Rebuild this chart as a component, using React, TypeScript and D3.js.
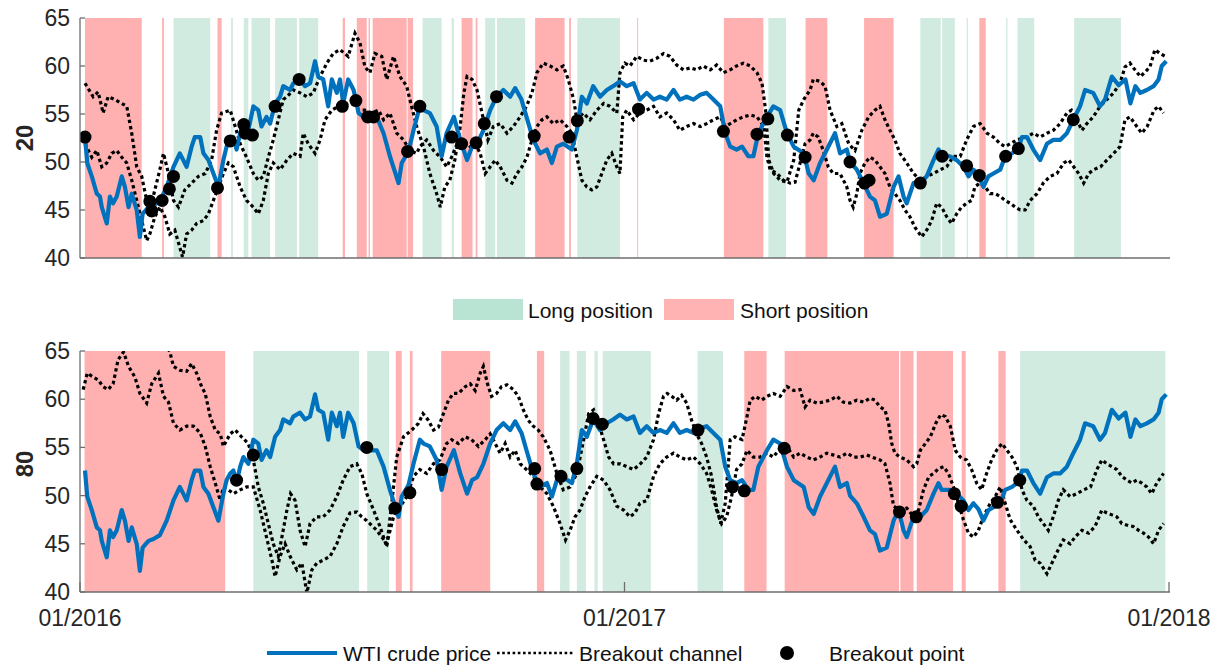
import React from "react";
import * as d3 from "d3";

// time is in months since 01/2016, values in USD/bbl
const price: [number, number][] = [
  [0.11, 52.6], [0.16, 49.9], [0.26, 48.5], [0.37, 46.7], [0.44, 46.4], [0.48, 45.3], [0.59, 43.6], [0.66, 46.4],
  [0.73, 45.7], [0.81, 46.4], [0.92, 48.5], [0.99, 47.4], [1.07, 45.3], [1.14, 46.7], [1.25, 45.0], [1.32, 42.2],
  [1.38, 44.6], [1.51, 45.3], [1.62, 45.5], [1.76, 45.9], [1.91, 47.4], [2.06, 49.5], [2.2, 50.9], [2.35, 49.5],
  [2.46, 51.6], [2.53, 52.6], [2.65, 52.6], [2.72, 50.9], [2.83, 50.2], [2.94, 48.8], [3.05, 47.4], [3.16, 50.2],
  [3.23, 51.6], [3.31, 52.3], [3.38, 52.6], [3.45, 51.3], [3.53, 53.0], [3.6, 54.0], [3.71, 53.3], [3.82, 55.8],
  [3.93, 55.4], [4.0, 53.7], [4.11, 54.7], [4.19, 54.0], [4.3, 56.1], [4.41, 56.8], [4.48, 57.9], [4.63, 57.5],
  [4.7, 58.2], [4.85, 58.6], [4.96, 57.9], [5.07, 58.2], [5.18, 60.5], [5.25, 58.9], [5.36, 58.6], [5.47, 55.8],
  [5.55, 58.6], [5.66, 57.2], [5.73, 58.6], [5.8, 56.1], [5.91, 58.6], [6.03, 57.5], [6.14, 55.1], [6.25, 54.7],
  [6.39, 54.7], [6.54, 54.7], [6.69, 53.0], [6.83, 50.6], [7.02, 47.8], [7.09, 49.9], [7.24, 51.1], [7.35, 53.3],
  [7.49, 55.8], [7.57, 55.4], [7.71, 55.1], [7.86, 53.7], [7.97, 50.6], [8.08, 53.0], [8.24, 54.7], [8.38, 52.3],
  [8.53, 50.2], [8.64, 51.6], [8.75, 51.9], [8.89, 53.3], [9.04, 55.4], [9.18, 56.8], [9.33, 57.5], [9.48, 56.8],
  [9.59, 57.7], [9.73, 56.5], [9.84, 54.7], [9.99, 52.3], [10.14, 50.9], [10.29, 51.3], [10.4, 49.9], [10.51, 51.6],
  [10.65, 51.9], [10.84, 51.3], [10.95, 53.3], [11.06, 56.8], [11.17, 56.1], [11.31, 57.9], [11.46, 56.8], [11.61, 57.5],
  [11.75, 57.9], [11.9, 58.4], [12.05, 57.9], [12.2, 58.2], [12.34, 56.5], [12.49, 57.2], [12.64, 56.5], [12.78, 56.8],
  [12.93, 56.5], [13.08, 57.5], [13.22, 56.5], [13.37, 56.8], [13.52, 56.5], [13.67, 57.0], [13.81, 57.2], [13.96, 56.5],
  [14.11, 55.8], [14.22, 53.0], [14.33, 51.6], [14.47, 51.3], [14.59, 51.6], [14.73, 50.6], [14.84, 50.6], [14.95, 53.0],
  [15.14, 54.7], [15.28, 55.8], [15.43, 55.4], [15.58, 53.0], [15.73, 51.6], [15.95, 50.9], [16.06, 48.8], [16.17, 48.1],
  [16.31, 49.9], [16.46, 51.3], [16.64, 53.0], [16.75, 50.9], [16.9, 51.3], [16.97, 50.0], [17.12, 49.2], [17.27, 47.8],
  [17.41, 46.4], [17.52, 46.0], [17.63, 44.3], [17.78, 44.6], [17.93, 47.4], [18.04, 48.5], [18.15, 46.4], [18.22, 45.7],
  [18.37, 47.8], [18.52, 47.8], [18.66, 48.5], [18.81, 50.2], [18.92, 51.3], [18.99, 50.6], [19.17, 50.6], [19.32, 50.2],
  [19.47, 49.5], [19.58, 48.5], [19.69, 49.2], [19.8, 48.6], [19.91, 47.4], [20.02, 48.5], [20.13, 48.8], [20.28, 49.2],
  [20.39, 50.6], [20.54, 50.9], [20.68, 51.4], [20.76, 52.6], [20.87, 52.6], [21.01, 51.3], [21.16, 50.2], [21.31, 51.9],
  [21.45, 52.3], [21.6, 52.3], [21.75, 53.0], [21.89, 54.4], [22.04, 55.8], [22.15, 57.5], [22.33, 57.2], [22.48, 55.8],
  [22.59, 56.5], [22.74, 58.9], [22.89, 58.0], [23.04, 58.6], [23.15, 56.1], [23.26, 57.9], [23.37, 57.2], [23.51, 57.5],
  [23.66, 57.9], [23.77, 58.6], [23.84, 60.0], [23.94, 60.5],
];

// 20-day breakout channel
const upper20: [number, number][] = [
  [0.11, 58.2], [0.29, 56.8], [0.4, 57.3], [0.51, 55.1], [0.62, 56.8], [0.77, 56.5], [0.92, 56.1], [1.03, 55.8],
  [1.14, 53.0], [1.25, 49.5], [1.36, 48.5], [1.47, 46.0], [1.54, 45.0], [1.65, 47.1], [1.76, 49.2], [1.84, 50.9],
  [1.95, 48.8], [2.06, 46.0], [2.17, 45.3], [2.31, 47.1], [2.46, 47.8], [2.61, 48.5], [2.76, 48.8], [2.9, 50.2],
  [3.01, 53.3], [3.12, 55.1], [3.31, 55.4], [3.42, 53.7], [3.53, 51.9], [3.67, 50.5], [3.82, 48.8], [3.93, 48.1],
  [4.04, 48.5], [4.15, 50.5], [4.26, 52.3], [4.37, 54.4], [4.48, 56.5], [4.56, 56.8], [4.7, 57.5], [4.85, 57.2],
  [5.0, 56.8], [5.14, 57.2], [5.29, 58.9], [5.44, 60.3], [5.58, 61.3], [5.73, 61.7], [5.91, 61.0], [6.06, 63.4],
  [6.17, 62.4], [6.28, 59.9], [6.39, 59.3], [6.5, 61.3], [6.65, 61.0], [6.76, 58.6], [6.91, 61.0], [7.05, 58.9],
  [7.2, 57.9], [7.27, 56.5], [7.42, 53.7], [7.57, 51.6], [7.71, 48.8], [7.86, 46.7], [7.94, 45.3], [8.04, 47.4],
  [8.15, 48.1], [8.26, 50.2], [8.38, 53.7], [8.46, 57.2], [8.53, 58.9], [8.64, 58.6], [8.75, 57.5], [8.86, 55.1],
  [8.99, 52.3], [9.11, 53.7], [9.26, 54.0], [9.41, 53.0], [9.55, 53.7], [9.7, 54.7], [9.84, 55.8], [9.96, 57.2],
  [10.07, 59.3], [10.21, 60.3], [10.36, 60.0], [10.51, 59.6], [10.65, 60.0], [10.76, 58.6], [10.88, 56.5], [10.95, 54.4],
  [11.09, 55.1], [11.24, 54.4], [11.39, 55.4], [11.54, 56.1], [11.68, 55.8], [11.83, 55.1], [11.9, 59.3], [12.01, 60.3],
  [12.12, 60.0], [12.27, 61.0], [12.42, 60.6], [12.56, 60.5], [12.71, 60.8], [12.86, 61.3], [13.0, 61.0], [13.15, 60.1],
  [13.3, 59.6], [13.45, 59.8], [13.59, 59.6], [13.74, 60.0], [13.89, 59.6], [14.03, 60.1], [14.18, 59.3], [14.33, 59.6],
  [14.47, 60.0], [14.62, 60.3], [14.77, 60.0], [14.92, 59.3], [15.03, 58.2], [15.11, 55.4], [15.18, 50.2], [15.29, 48.8],
  [15.43, 48.1], [15.58, 47.9], [15.73, 50.2], [15.84, 55.4], [15.95, 56.5], [16.09, 57.5], [16.16, 58.6], [16.31, 58.4],
  [16.42, 57.9], [16.53, 55.4], [16.68, 53.7], [16.79, 54.0], [16.94, 51.9], [17.08, 51.2], [17.23, 53.3], [17.38, 54.7],
  [17.52, 55.4], [17.63, 55.8], [17.74, 54.4], [17.85, 53.3], [17.96, 52.3], [18.07, 50.9], [18.22, 49.9], [18.37, 48.8],
  [18.52, 48.1], [18.66, 48.5], [18.81, 48.8], [18.96, 49.2], [19.1, 49.5], [19.25, 50.6], [19.4, 50.6], [19.54, 52.3],
  [19.69, 53.7], [19.84, 54.0], [19.99, 53.0], [20.13, 52.6], [20.28, 51.9], [20.39, 51.6], [20.5, 51.9], [20.65, 52.3],
  [20.87, 52.6], [21.01, 53.0], [21.16, 52.6], [21.31, 53.0], [21.45, 53.3], [21.6, 54.0], [21.75, 55.1], [21.85, 55.4],
  [21.97, 54.4], [22.08, 53.3], [22.19, 54.0], [22.33, 54.7], [22.48, 55.8], [22.63, 56.5], [22.78, 57.2], [22.92, 58.2],
  [23.03, 59.9], [23.14, 60.3], [23.25, 59.6], [23.37, 58.9], [23.48, 59.4], [23.58, 59.9], [23.69, 61.7], [23.8, 61.3],
  [23.92, 61.0],
];

const lower20: [number, number][] = [
  [0.11, 51.9], [0.26, 50.5], [0.37, 51.2], [0.48, 49.5], [0.59, 49.9], [0.7, 50.9], [0.81, 51.2], [0.92, 50.5],
  [1.03, 49.9], [1.14, 48.1], [1.25, 46.0], [1.36, 43.9], [1.47, 41.8], [1.54, 42.5], [1.65, 44.3], [1.76, 45.3],
  [1.87, 44.3], [1.98, 42.5], [2.09, 42.9], [2.2, 41.1], [2.26, 40.1], [2.35, 42.5], [2.46, 42.9], [2.57, 43.6],
  [2.72, 43.9], [2.83, 44.6], [2.94, 46.0], [3.05, 47.4], [3.16, 48.8], [3.27, 49.9], [3.38, 49.5], [3.53, 47.4],
  [3.67, 46.0], [3.82, 45.3], [3.93, 44.6], [4.04, 46.0], [4.15, 48.8], [4.26, 49.9], [4.41, 49.2], [4.56, 50.2],
  [4.7, 50.9], [4.85, 50.6], [4.92, 53.0], [5.03, 51.9], [5.18, 50.9], [5.29, 52.3], [5.4, 54.4], [5.55, 55.4],
  [5.69, 55.8], [5.88, 56.1], [6.03, 56.5], [6.14, 55.4], [6.28, 55.4], [6.43, 55.1], [6.58, 55.4], [6.69, 54.4],
  [6.83, 55.1], [6.98, 53.0], [7.13, 52.3], [7.27, 51.2], [7.42, 50.9], [7.49, 51.6], [7.64, 52.3], [7.79, 51.2],
  [7.94, 50.5], [8.08, 49.5], [8.19, 50.5], [8.31, 51.9], [8.45, 52.3], [8.6, 51.6], [8.71, 51.9], [8.82, 50.9],
  [8.93, 48.8], [9.04, 49.5], [9.15, 50.2], [9.26, 49.5], [9.41, 48.1], [9.52, 47.8], [9.63, 48.8], [9.74, 49.5],
  [9.85, 50.5], [9.96, 52.3], [10.07, 53.7], [10.18, 54.4], [10.29, 54.7], [10.43, 54.0], [10.58, 54.4], [10.73, 53.7],
  [10.84, 53.0], [10.95, 50.5], [11.06, 48.1], [11.17, 47.4], [11.28, 47.1], [11.39, 47.4], [11.5, 48.8], [11.61, 50.2],
  [11.72, 50.9], [11.83, 49.5], [11.9, 48.8], [11.96, 54.7], [12.05, 55.4], [12.2, 54.4], [12.34, 55.1], [12.49, 55.4],
  [12.64, 55.8], [12.78, 54.7], [12.93, 55.1], [13.08, 54.4], [13.22, 53.3], [13.37, 53.7], [13.52, 54.0], [13.67, 53.7],
  [13.81, 54.0], [13.96, 54.4], [14.11, 54.7], [14.22, 53.7], [14.33, 54.0], [14.47, 54.4], [14.62, 54.7], [14.77, 54.9],
  [14.92, 54.7], [15.07, 53.7], [15.14, 50.5], [15.21, 49.2], [15.36, 48.8], [15.5, 48.1], [15.65, 47.8], [15.76, 47.9],
  [15.87, 49.9], [15.98, 51.9], [16.09, 52.3], [16.16, 53.0], [16.27, 52.6], [16.38, 51.2], [16.49, 49.5], [16.6, 48.8],
  [16.75, 48.8], [16.9, 47.4], [16.97, 46.0], [17.04, 45.3], [17.12, 46.7], [17.19, 48.8], [17.3, 49.9], [17.41, 50.5],
  [17.52, 50.2], [17.63, 49.5], [17.74, 48.8], [17.85, 47.4], [17.96, 46.7], [18.07, 46.0], [18.18, 45.0], [18.29, 44.3],
  [18.4, 43.2], [18.55, 42.2], [18.66, 42.9], [18.77, 43.9], [18.88, 45.7], [18.99, 45.3], [19.1, 44.3], [19.21, 43.6],
  [19.32, 44.6], [19.43, 45.3], [19.54, 45.7], [19.65, 46.0], [19.72, 47.4], [19.83, 47.8], [19.95, 47.4], [20.06, 46.7],
  [20.17, 46.7], [20.28, 46.4], [20.39, 46.0], [20.5, 45.7], [20.61, 45.3], [20.72, 45.0], [20.83, 45.0], [20.94, 46.0],
  [21.09, 46.7], [21.23, 47.8], [21.38, 48.5], [21.53, 48.8], [21.68, 49.9], [21.79, 50.2], [21.9, 49.5], [22.01, 48.8],
  [22.12, 47.8], [22.23, 48.8], [22.34, 49.2], [22.49, 49.5], [22.63, 50.2], [22.78, 50.9], [22.92, 51.6], [23.03, 54.4],
  [23.14, 54.7], [23.29, 53.7], [23.4, 53.0], [23.52, 53.7], [23.67, 55.4], [23.77, 55.8], [23.88, 55.1],
];

// 80-day breakout channel
const upper80: [number, number][] = [
  [0.07, 66.5], [0.5, 66.8], [1.0, 66.3], [1.5, 66.5], [1.9, 65.6], [1.98, 64.9], [2.06, 63.4], [2.2, 63.0],
  [2.35, 62.9], [2.46, 63.7], [2.57, 62.7], [2.68, 61.3], [2.76, 60.6], [2.87, 58.2], [2.98, 56.8], [3.09, 56.4],
  [3.16, 55.1], [3.31, 56.4], [3.42, 56.8], [3.56, 56.1], [3.71, 55.4], [3.82, 53.7], [3.93, 50.9], [4.04, 49.2],
  [4.15, 47.1], [4.26, 45.0], [4.37, 43.7], [4.45, 45.7], [4.56, 48.5], [4.64, 50.2], [4.74, 49.5], [4.85, 46.4],
  [4.96, 44.7], [5.07, 47.1], [5.22, 47.8], [5.36, 47.8], [5.51, 48.5], [5.66, 49.9], [5.8, 51.6], [5.95, 53.0],
  [6.1, 53.3], [6.21, 52.3], [6.32, 50.2], [6.47, 48.5], [6.61, 46.8], [6.76, 44.7], [6.87, 49.2], [6.98, 54.0],
  [7.13, 56.1], [7.31, 56.8], [7.46, 57.5], [7.56, 58.5], [7.68, 57.8], [7.79, 56.8], [7.9, 57.1], [8.01, 58.5],
  [8.12, 59.9], [8.23, 60.6], [8.34, 60.6], [8.49, 61.3], [8.6, 61.6], [8.71, 60.9], [8.82, 62.7], [8.89, 63.4],
  [8.98, 61.6], [9.07, 60.3], [9.18, 60.6], [9.29, 61.3], [9.41, 61.5], [9.55, 61.0], [9.66, 60.3], [9.77, 58.9],
  [9.88, 57.8], [9.99, 57.2], [10.1, 56.8], [10.21, 56.1], [10.36, 54.7], [10.51, 52.3], [10.65, 50.6], [10.8, 50.9],
  [10.95, 52.3], [11.1, 55.8], [11.21, 58.5], [11.32, 58.9], [11.43, 57.5], [11.54, 55.8], [11.65, 54.0], [11.76, 53.3],
  [11.91, 53.3], [12.05, 53.0], [12.2, 52.7], [12.35, 53.3], [12.49, 54.0], [12.64, 55.8], [12.75, 58.5], [12.86, 60.3],
  [12.94, 60.6], [13.04, 60.3], [13.15, 59.9], [13.26, 60.4], [13.37, 59.6], [13.48, 57.8], [13.59, 56.4], [13.7, 55.4],
  [13.81, 54.0], [13.92, 52.0], [14.03, 48.8], [14.12, 47.1], [14.22, 49.2], [14.33, 55.8], [14.43, 56.1], [14.59, 55.8],
  [14.7, 58.2], [14.77, 59.9], [14.88, 60.3], [15.02, 59.9], [15.14, 60.3], [15.28, 60.6], [15.43, 60.3], [15.58, 61.3],
  [15.73, 60.9], [15.87, 61.0], [15.98, 59.2], [16.09, 59.9], [16.24, 59.6], [16.38, 59.7], [16.53, 59.9], [16.68, 60.3],
  [16.82, 59.7], [16.97, 59.6], [17.12, 59.9], [17.27, 59.7], [17.41, 60.1], [17.52, 59.9], [17.63, 59.2], [17.74, 58.9],
  [17.82, 57.5], [17.89, 55.4], [17.96, 54.4], [18.07, 54.0], [18.22, 53.7], [18.37, 53.0], [18.44, 53.3], [18.52, 54.7],
  [18.63, 55.4], [18.74, 56.1], [18.86, 57.5], [18.97, 58.4], [19.07, 58.2], [19.18, 57.2], [19.29, 54.7], [19.4, 54.0],
  [19.54, 53.7], [19.65, 52.7], [19.76, 51.3], [19.87, 50.6], [19.98, 52.3], [20.09, 53.7], [20.2, 54.7], [20.32, 55.4],
  [20.43, 54.7], [20.54, 54.0], [20.65, 53.0], [20.76, 50.6], [20.87, 49.5], [21.01, 48.9], [21.12, 47.8], [21.23, 47.1],
  [21.34, 46.4], [21.45, 47.8], [21.56, 49.5], [21.67, 50.6], [21.82, 49.9], [21.97, 50.2], [22.12, 50.6], [22.27, 50.9],
  [22.41, 52.7], [22.52, 53.7], [22.63, 53.3], [22.74, 53.0], [22.85, 52.7], [22.96, 52.0], [23.07, 51.6], [23.18, 51.3],
  [23.29, 51.6], [23.4, 51.3], [23.51, 50.9], [23.62, 50.2], [23.73, 51.3], [23.88, 52.3],
];

const lower80: [number, number][] = [
  [0.07, 61.0], [0.16, 62.7], [0.29, 62.3], [0.4, 62.0], [0.51, 61.3], [0.62, 61.0], [0.73, 61.6], [0.84, 64.1],
  [0.96, 64.9], [1.07, 63.4], [1.21, 62.3], [1.32, 60.6], [1.47, 59.6], [1.58, 61.6], [1.73, 62.7], [1.84, 60.3],
  [1.95, 59.7], [2.06, 57.5], [2.2, 56.8], [2.35, 57.2], [2.5, 57.2], [2.65, 56.5], [2.76, 55.1], [2.87, 53.0],
  [2.98, 51.3], [3.09, 49.5], [3.16, 50.9], [3.27, 50.6], [3.38, 50.2], [3.53, 50.6], [3.67, 50.9], [3.82, 50.9],
  [3.97, 48.5], [4.11, 45.7], [4.23, 43.3], [4.3, 41.6], [4.41, 43.7], [4.52, 45.0], [4.63, 43.7], [4.78, 42.3],
  [4.89, 43.0], [5.0, 39.9], [5.11, 42.3], [5.22, 43.0], [5.36, 43.3], [5.51, 43.7], [5.66, 45.0], [5.8, 46.8],
  [5.95, 48.2], [6.1, 48.3], [6.21, 47.8], [6.32, 47.4], [6.54, 46.4], [6.76, 45.0], [6.91, 47.8], [7.05, 48.8],
  [7.2, 49.9], [7.35, 52.0], [7.49, 52.7], [7.64, 52.3], [7.79, 53.3], [7.93, 53.7], [8.08, 55.4], [8.19, 55.8],
  [8.34, 55.4], [8.49, 56.1], [8.63, 55.8], [8.78, 55.1], [8.93, 55.8], [9.04, 56.4], [9.15, 55.4], [9.26, 54.4],
  [9.37, 55.4], [9.48, 54.0], [9.59, 54.7], [9.7, 53.3], [9.84, 52.7], [9.99, 52.0], [10.14, 50.9], [10.29, 50.2],
  [10.43, 48.9], [10.58, 47.1], [10.7, 45.4], [10.8, 46.4], [10.91, 47.8], [11.02, 48.5], [11.13, 49.9], [11.24, 50.9],
  [11.39, 52.0], [11.54, 51.6], [11.68, 50.6], [11.83, 48.9], [11.98, 48.5], [12.12, 47.8], [12.23, 48.2], [12.34, 49.2],
  [12.49, 49.5], [12.64, 52.0], [12.78, 53.3], [12.93, 54.0], [13.08, 54.4], [13.22, 54.0], [13.37, 53.7], [13.52, 54.0],
  [13.67, 53.3], [13.81, 52.3], [13.92, 50.6], [14.03, 48.5], [14.14, 47.1], [14.25, 47.8], [14.36, 49.9], [14.47, 52.7],
  [14.59, 53.3], [14.7, 54.7], [14.84, 54.0], [14.99, 54.0], [15.14, 54.4], [15.28, 54.0], [15.43, 54.9], [15.58, 55.1],
  [15.73, 54.0], [15.87, 54.4], [16.02, 54.0], [16.16, 53.7], [16.31, 54.0], [16.46, 54.4], [16.61, 54.2], [16.75, 54.0],
  [16.9, 54.4], [17.05, 54.0], [17.19, 54.0], [17.34, 54.2], [17.45, 54.0], [17.63, 53.7], [17.74, 53.3], [17.85, 51.3],
  [17.93, 48.9], [18.07, 48.5], [18.22, 48.7], [18.37, 47.8], [18.48, 48.5], [18.59, 50.6], [18.71, 52.0], [18.81, 52.3],
  [18.92, 52.8], [19.03, 53.0], [19.14, 52.3], [19.25, 50.9], [19.36, 49.2], [19.47, 47.5], [19.58, 46.1], [19.69, 45.7],
  [19.8, 46.4], [19.91, 47.8], [20.06, 49.2], [20.17, 49.9], [20.28, 50.9], [20.39, 49.2], [20.5, 47.5], [20.65, 46.4],
  [20.8, 45.4], [20.94, 44.7], [21.05, 43.3], [21.16, 43.0], [21.31, 41.9], [21.45, 43.3], [21.56, 44.4], [21.67, 45.4],
  [21.82, 45.0], [21.93, 45.7], [22.08, 46.4], [22.23, 46.1], [22.37, 46.8], [22.52, 48.5], [22.63, 48.2], [22.74, 48.0],
  [22.85, 47.8], [22.96, 47.1], [23.1, 46.9], [23.21, 46.8], [23.33, 46.4], [23.44, 46.1], [23.55, 45.7], [23.66, 45.0],
  [23.77, 46.4], [23.88, 47.1],
];

const breaks20: [number, number][] = [
  [0.11, 52.6], [1.54, 45.9], [1.58, 44.9], [1.81, 46.0], [1.97, 47.2], [2.06, 48.5], [3.03, 47.3], [3.31, 52.2],
  [3.61, 53.9], [3.64, 53.0], [3.8, 52.8], [4.3, 55.8], [4.83, 58.6], [5.78, 55.8], [6.08, 56.4], [6.34, 54.7],
  [6.47, 54.7], [7.22, 51.1], [7.49, 55.8], [8.19, 52.6], [8.41, 51.9], [8.73, 52.0], [8.91, 54.0], [9.18, 56.8],
  [10.01, 52.7], [10.78, 52.6], [10.96, 54.3], [12.31, 55.5], [14.18, 53.2], [14.92, 52.9], [15.16, 54.5], [15.59, 52.8],
  [15.98, 50.5], [16.97, 50.0], [17.29, 47.8], [17.39, 48.1], [18.52, 47.8], [19.0, 50.6], [19.54, 49.6], [19.82, 48.6],
  [20.4, 50.6], [20.68, 51.4], [21.89, 54.4],
];

const breaks80: [number, number][] = [
  [3.45, 51.6], [3.82, 54.2], [6.32, 55.0], [6.94, 48.7], [7.27, 50.3], [7.97, 52.7], [10.02, 52.8], [10.07, 51.2],
  [10.6, 52.0], [10.95, 52.8], [11.31, 58.0], [11.51, 57.4], [13.62, 56.8], [14.38, 50.9], [14.64, 50.5], [15.52, 54.9],
  [18.06, 48.3], [18.43, 47.8], [19.27, 50.2], [19.42, 48.9], [20.22, 49.3], [20.71, 51.6],
];

// position periods [from, to] in months
const long20: [number, number][] = [
  [2.06, 2.87], [3.33, 3.37], [3.61, 3.71], [3.78, 4.19], [4.3, 4.78], [4.83, 5.25], [7.55, 7.97], [8.19, 8.24],
  [8.93, 9.15], [9.19, 9.81], [10.96, 11.9], [15.17, 15.56], [18.52, 18.97], [19.0, 19.28], [19.54, 19.57],
  [20.41, 20.44], [20.66, 21.03], [21.91, 22.94],
];
const short20: [number, number][] = [
  [0.11, 1.36], [1.81, 1.85], [3.03, 3.12], [5.79, 5.84], [6.1, 6.32], [6.36, 6.39], [6.45, 7.2], [7.22, 7.34],
  [8.41, 8.65], [8.72, 8.76], [10.03, 10.68], [10.78, 10.82], [12.28, 12.3], [14.19, 15.06], [15.99, 16.47],
  [17.28, 17.93], [19.82, 19.96],
];
const long80: [number, number][] = [
  [3.82, 6.15], [6.33, 6.81], [10.58, 10.79], [10.95, 11.15], [11.34, 11.41], [11.52, 12.58], [13.61, 14.17],
  [20.72, 23.92],
];
const short80: [number, number][] = [
  [0.1, 3.2], [6.96, 7.09], [7.27, 7.33], [7.96, 9.04], [10.07, 10.23], [14.64, 15.13], [15.53, 18.05],
  [18.08, 18.37], [18.44, 19.24], [19.43, 19.52], [20.24, 20.4],
];

const yTicks = [40, 45, 50, 55, 60, 65];
const xTicks = [0, 12, 24];
const xTickLabels = ["01/2016", "01/2017", "01/2018"];

const font = "'Liberation Sans', Arial, Helvetica, sans-serif";
const blue = "#0072BD";
const green = "#d2ebe1";
const red = "#ffb1b1";
const axisColor = "#6e6e6e";
const textColor = "#262626";
const dots = "3.4 3";

const x = d3.scaleLinear().domain([0, 24]).range([80, 1169]);

function Panel({ id, top, bottom, label, labelY, upper, lower, breaks, long, short, xAxis }) {
  const y = d3.scaleLinear().domain([40, 65]).range([bottom, top]);
  const line = d3
    .line<[number, number]>()
    .x((d) => x(d[0]))
    .y((d) => y(d[1]));

  return (
    <g>
      <defs>
        <clipPath id={id}>
          <rect x={80} y={top} width={1090} height={bottom - top} />
        </clipPath>
      </defs>
      <g clipPath={`url(#${id})`}>
        {long.map((p, i) => (
          <rect key={`l${i}`} x={x(p[0])} y={top} width={x(p[1]) - x(p[0])} height={bottom - top} fill={green} />
        ))}
        {short.map((p, i) => (
          <rect key={`s${i}`} x={x(p[0])} y={top} width={x(p[1]) - x(p[0])} height={bottom - top} fill={red} />
        ))}
        <path d={line(upper)} fill="none" stroke="#000" strokeWidth={3.2} strokeDasharray={dots} />
        <path d={line(lower)} fill="none" stroke="#000" strokeWidth={3.2} strokeDasharray={dots} />
        <path d={line(price)} fill="none" stroke={blue} strokeWidth={4.2} strokeLinejoin="round" />
        {breaks.map((d, i) => (
          <circle key={`b${i}`} cx={x(d[0])} cy={y(d[1])} r={6.5} fill="#000" />
        ))}
      </g>

      <line x1={80} x2={80} y1={top} y2={bottom} stroke={axisColor} strokeWidth={1.3} />
      <line x1={80} x2={1170} y1={bottom} y2={bottom} stroke={axisColor} strokeWidth={1.3} />
      {yTicks.map((t) => (
        <g key={t}>
          <line x1={80} x2={85} y1={y(t)} y2={y(t)} stroke={axisColor} strokeWidth={1.3} />
          <text x={70} y={y(t) + 8} textAnchor="end" fontSize={23} fill={textColor} fontFamily={font}>
            {t}
          </text>
        </g>
      ))}
      {xAxis &&
        xTicks.map((t, i) => (
          <g key={t}>
            <line x1={x(t)} x2={x(t)} y1={bottom} y2={bottom - 10} stroke={axisColor} strokeWidth={1.3} />
            <text x={x(t)} y={bottom + 34} textAnchor="middle" fontSize={23} fill={textColor} fontFamily={font}>
              {xTickLabels[i]}
            </text>
          </g>
        ))}
      <text
        transform={`translate(24,${labelY}) rotate(-90)`}
        textAnchor="middle"
        dominantBaseline="central"
        fontSize={24}
        fontWeight="bold"
        fill={textColor}
        fontFamily={font}
      >
        {label}
      </text>
    </g>
  );
}

export default function App() {
  return (
    <svg
      width={1222}
      height={667}
      style={{ position: "absolute", left: 0, top: 0, background: "#fff" }}
    >
      <Panel
        id="clip20"
        top={18}
        bottom={258}
        label="20"
        labelY={138}
        upper={upper20}
        lower={lower20}
        breaks={breaks20}
        long={long20}
        short={short20}
        xAxis={false}
      />
      <Panel
        id="clip80"
        top={351}
        bottom={592}
        label="80"
        labelY={464}
        upper={upper80}
        lower={lower80}
        breaks={breaks80}
        long={long80}
        short={short80}
        xAxis={true}
      />

      {/* position legend */}
      <rect x={453} y={299} width={70} height={21} fill="#b9e3d3" />
      <text x={528} y={318} fontSize={21} fill="#111" fontFamily={font}>
        Long position
      </text>
      <rect x={664} y={299} width={70} height={21} fill="#ffb3b3" />
      <text x={740} y={318} fontSize={21} fill="#111" fontFamily={font}>
        Short position
      </text>

      {/* series legend */}
      <line x1={267} x2={337} y1={653} y2={653} stroke={blue} strokeWidth={4.2} />
      <text x={343} y={661} fontSize={21} fill="#111" fontFamily={font}>
        WTI crude price
      </text>
      <line x1={497} x2={575} y1={653} y2={653} stroke="#000" strokeWidth={2.6} strokeDasharray="2.6 2.6" />
      <text x={579} y={661} fontSize={21} fill="#111" fontFamily={font}>
        Breakout channel
      </text>
      <circle cx={787} cy={653} r={7} fill="#000" />
      <text x={829} y={661} fontSize={21} fill="#111" fontFamily={font}>
        Breakout point
      </text>
    </svg>
  );
}
